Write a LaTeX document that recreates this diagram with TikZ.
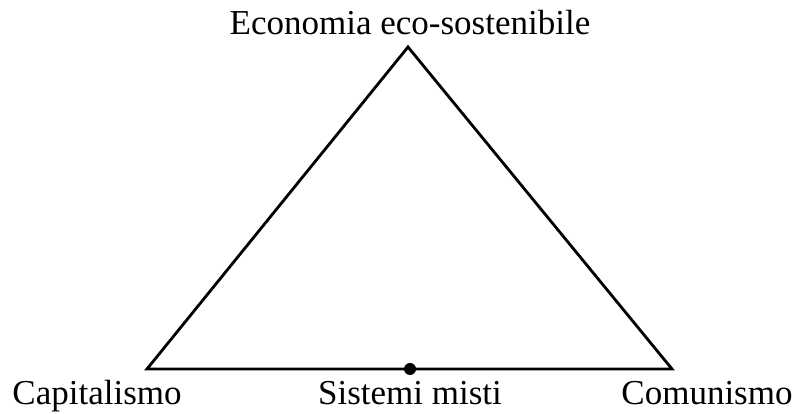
\documentclass[tikz,border=0pt]{standalone}
\usepackage{fontspec}
\setmainfont{Liberation Serif}
\usepackage{xcolor}

\tikzset{
  corner/.style={inner sep=0pt, font=\fontsize{35}{40}\selectfont, anchor=base},
  side/.style={line width=2.8pt, line join=miter}
}

\begin{document}
\begin{tikzpicture}[x=1pt, y=1pt]
            \useasboundingbox (0,0) rectangle (795,414);

            % Triangle corners
            \coordinate (apex) at (408,367);
            \coordinate (capleft) at (147,45);
            \coordinate (comright) at (672,45);
            \coordinate (mixed) at (410,45);

            % Triangle
            \draw[side] (apex) -- (capleft) -- (comright) -- cycle;
            \fill (mixed) circle (6);

            % Labels
            \node[corner] (ecolabel) at (410,379) {Economia eco-sostenibile};
            \node[corner] (caplabel) at (97,9) {Capitalismo};
            \node[corner] (mixlabel) at (410,9) {Sistemi misti};
            \node[corner] (comlabel) at (707,9) {Comunismo};
        \end{tikzpicture}
\end{document}
